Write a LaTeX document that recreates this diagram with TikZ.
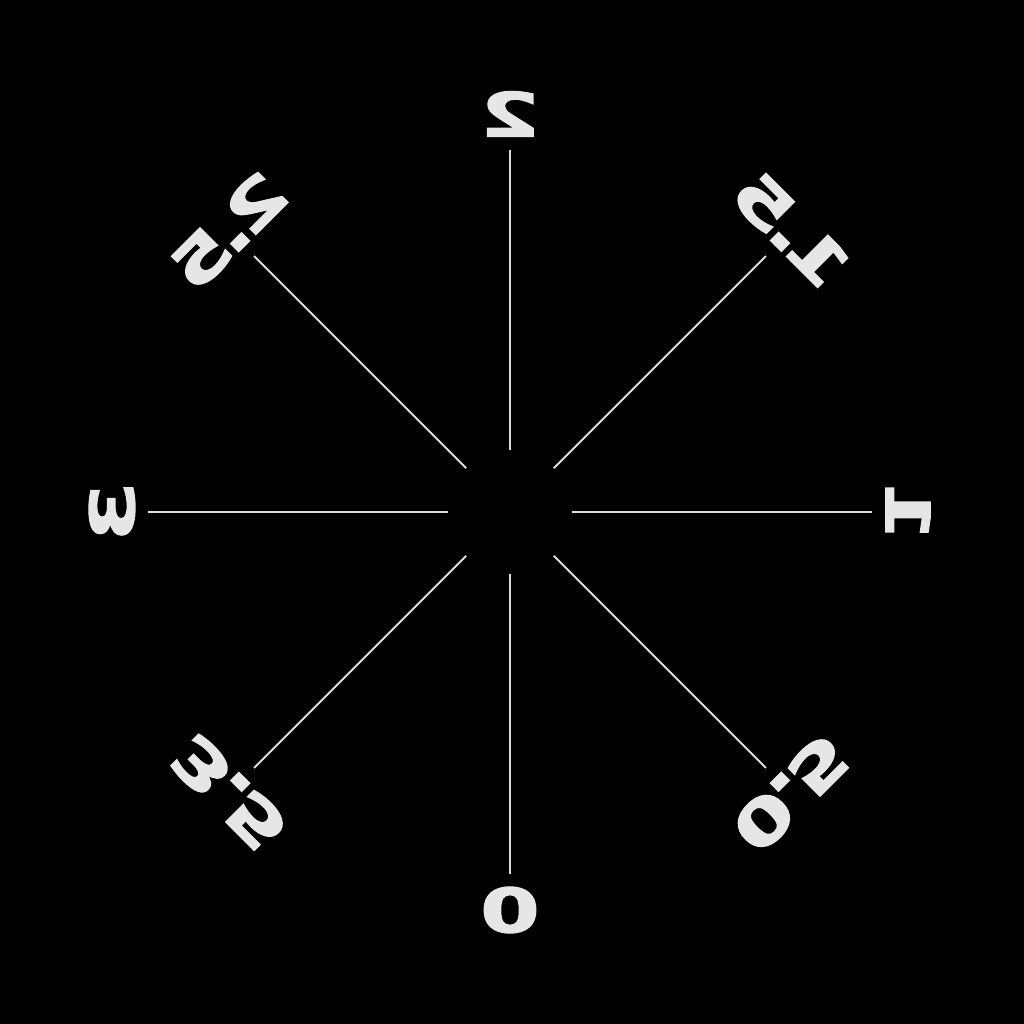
\documentclass[tikz,border=0pt]{standalone}
\usepackage{fontspec}
\newfontfamily\labfont{DejaVu Sans}[UprightFont={* Bold}, FakeBold=2]
\definecolor{lbl}{HTML}{E6E6E6}
\definecolor{ray}{HTML}{DDDDDD}
\begin{document}
\begin{tikzpicture}[x=1pt,y=1pt,
  lab/.style={inner sep=0pt, text=lbl, font={\labfont\fontsize{61}{61}\selectfont}},
  rayline/.style={draw=ray, line width=1.8pt}]
\fill[black] (-510,-512) rectangle (514,512);
\useasboundingbox (-510,-512) rectangle (514,512);
% labels (mirrored, top of text pointing outward)
\node[lab, shift={(0,-398)}, cm={1.4,0,0,-1,(0,0)}] (l0) at (0,0) {0};
\node[lab, shift={(281.4,-281.4)}, cm={0.99,0.99,0.7071,-0.7071,(0,0)}] (l05) at (0,0) {0\kern-5pt.\kern-5pt5};
\node[lab, shift={(398,0)}, cm={0,1.4,1,0,(0,0)}] (l1) at (0,0) {1};
\node[lab, shift={(281.4,281.4)}, cm={-0.99,0.99,0.7071,0.7071,(0,0)}] (l15) at (0,0) {1\kern-5pt.\kern-5pt5};
\node[lab, shift={(0,398)}, cm={-1.4,0,0,1,(0,0)}] (l2) at (0,0) {2};
\node[lab, shift={(-281.4,281.4)}, cm={-0.99,-0.99,-0.7071,0.7071,(0,0)}] (l25) at (0,0) {2\kern-5pt.\kern-5pt5};
\node[lab, shift={(-398,0)}, cm={0,-1.4,-1,0,(0,0)}] (l3) at (0,0) {3};
\node[lab, shift={(-281.4,-281.4)}, cm={0.99,-0.99,-0.7071,-0.7071,(0,0)}] (l35) at (0,0) {3\kern-5pt.\kern-5pt5};
% rays
\foreach \a/\n in {270/r0,315/r05,0/r1,45/r15,90/r2,135/r25,180/r3,225/r35}{
  \coordinate (\n i) at (\a:62);
  \coordinate (\n o) at (\a:362);
  \draw[rayline] (\n i) -- (\n o);
}
\end{tikzpicture}
\end{document}
